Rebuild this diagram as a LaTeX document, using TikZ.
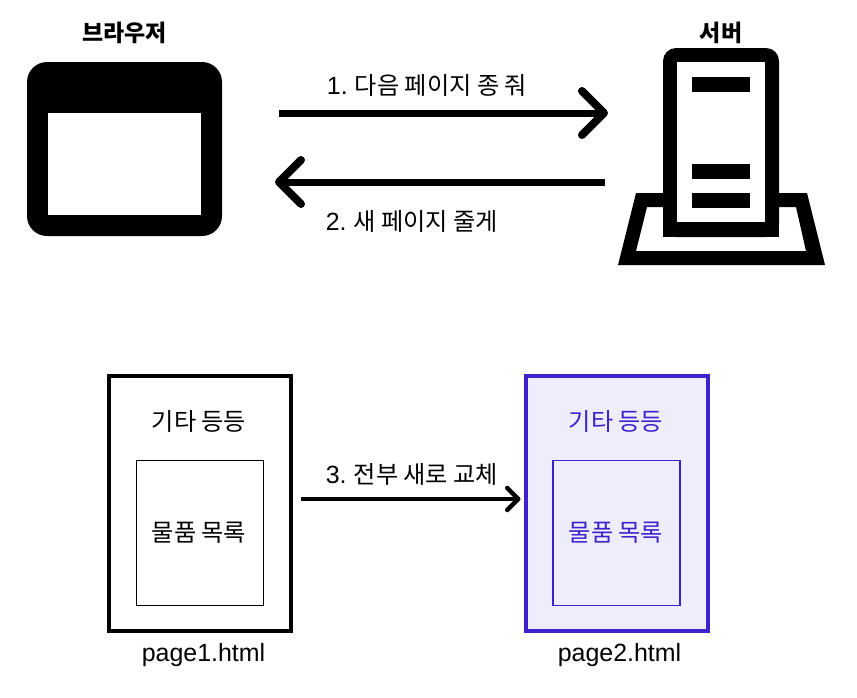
\documentclass[tikz,border=0pt]{standalone}
\usepackage{fontspec}
\setmainfont{Noto Sans CJK KR}
\newfontfamily\latfont{Liberation Sans}[Scale=1.03]
\usepackage{tikz}
\usetikzlibrary{arrows.meta,positioning}
\definecolor{pagepurple}{RGB}{62,32,205}
\definecolor{pagefill}{RGB}{238,237,251}
\tikzset{
  titletext/.style={font=\fontsize{23}{26}\selectfont\bfseries,inner sep=0pt},
  msgtext/.style={font=\fontsize{24.2}{27}\selectfont,inner sep=0pt},
  pagetext/.style={font=\fontsize{24.2}{27}\selectfont,inner sep=0pt},
  solidnode/.style={rectangle,fill=black,inner sep=0pt,outer sep=0pt},
  holenode/.style={rectangle,fill=white,inner sep=0pt,outer sep=0pt},
  barnode/.style={solidnode,minimum width=58pt,minimum height=15pt},
  pagenode/.style={rectangle,draw=black,line width=4pt,inner sep=0pt,minimum width=182pt,minimum height=255pt},
  listnode/.style={rectangle,draw=black,line width=1.8pt,inner sep=0pt,minimum width=127pt,minimum height=145pt},
  newpage/.style={draw=pagepurple,fill=pagefill},
  newlist/.style={draw=pagepurple},
  bigarr/.style={-{Straight Barb[length=22pt,width=44pt,round,line width=8pt]},line width=7pt},
  smallarr/.style={-{Straight Barb[length=11pt,width=22pt,round,line width=4.5pt]},line width=4pt}
}
\begin{document}
\begin{tikzpicture}[x=1pt,y=-1pt]
  \useasboundingbox (0,0) rectangle (857,697);

  %% Browser icon
  \node[solidnode,rounded corners=20pt,minimum width=195pt,minimum height=174pt] (browser) at (124.5,149) {};
  \node[holenode,minimum width=153pt,minimum height=102pt] (viewport) at (124.5,164) {};
  \node[titletext] (browsertitle) at (124.5,33) {브라우저};

  %% Server icon
  \fill[even odd rule] (636,193) -- (807,193) -- (825,265) -- (618,265) -- cycle
    (647,207) -- (796,207) -- (806,251) -- (636,251) -- cycle;
  \node[solidnode,rounded corners=13pt,minimum width=116pt,minimum height=189pt] (server) at (721,142.5) {};
  \fill (server.south west) rectangle ([yshift=20pt]server.south east);
  \node[holenode,minimum width=88pt,minimum height=160pt] (rack) at (721,142) {};
  \node[barnode] (bartop) at (721,84.5) {};
  \node[barnode] (barmid) at (721,171.5) {};
  \node[barnode,below=14pt of barmid] (barlow) {};
  \node[titletext] (servertitle) at (721,33) {서버};

  %% Request and response
  \node[msgtext] (reqtext) at (427,85) {{\latfont 1.} 다음 페이지 종 줘};
  \node[msgtext] (restext) at (412,221) {{\latfont 2.} 새 페이지 줄게};
  \draw[bigarr,shorten <=57pt,shorten >=55pt] ([yshift=36pt]browser.east) -- ([yshift=29.5pt]server.west);
  \draw[bigarr,shorten <=58pt,shorten >=53pt] ([yshift=-39.5pt]server.west) -- ([yshift=-33pt]browser.east);

  %% Page 1
  \node[pagenode] (page1) at (200,503.5) {};
  \node[listnode] (list1) at (200,533) {};
  \node[pagetext] (etc1) at (199,421) {기타 등등};
  \node[pagetext] (items1) at (199,533) {물품 목록};
  \node[msgtext,below=10pt of page1,xshift=3.5pt] (name1) {\latfont page1.html};

  %% Page 2
  \node[pagenode,newpage] (page2) at (616.5,503.5) {};
  \node[listnode,newlist] (list2) at (616.5,533) {};
  \node[pagetext,text=pagepurple] (etc2) at (616,421) {기타 등등};
  \node[pagetext,text=pagepurple] (items2) at (616,533) {물품 목록};
  \node[msgtext,below=10pt of page2,xshift=3pt] (name2) {\latfont page2.html};

  %% Replace
  \node[msgtext] (swaptext) at (412,474) {{\latfont 3.} 전부 새로 교체};
  \draw[smallarr,shorten <=8pt,shorten >=3pt] ([yshift=4.5pt]page1.east) -- ([yshift=4.5pt]page2.west);
\end{tikzpicture}
\end{document}
